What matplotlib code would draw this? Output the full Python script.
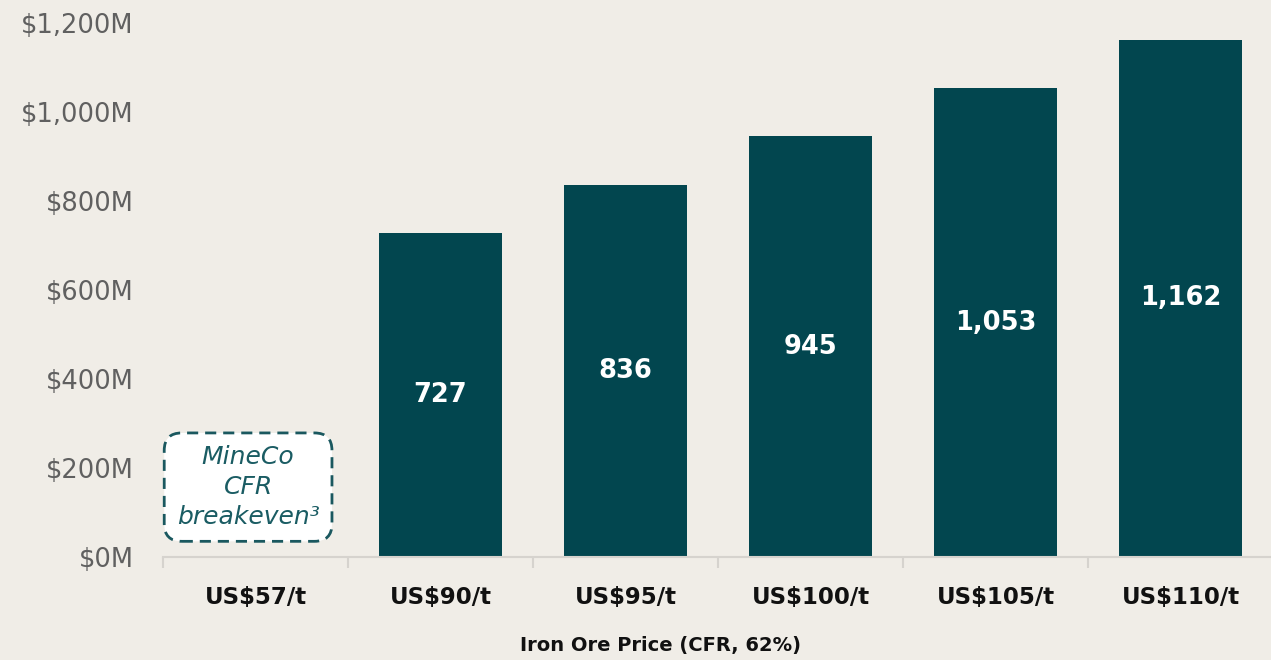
import numpy as np
import matplotlib.pyplot as plt
from matplotlib.ticker import FuncFormatter, FixedLocator

prices = ['US$57/t', 'US$90/t', 'US$95/t', 'US$100/t', 'US$105/t', 'US$110/t']
npv    = [0, 727, 836, 945, 1053, 1162]
yticks = [0, 200, 400, 600, 800, 1000, 1200]

teal = '#02464F'
bg   = '#F0EDE7'

plt.rcParams['font.family'] = ['DejaVu Sans']

fig = plt.figure(figsize=(12.71, 6.60), dpi=100, facecolor=bg)
ax  = fig.add_axes([163/1271, 103/660, 1110/1271, 534/660], facecolor=bg)

x = np.arange(len(prices))
bars = ax.bar(x, npv, width=0.665, color=teal)
ax.bar_label(bars, labels=['' if v == 0 else f'{v:,}' for v in npv],
             label_type='center', color='white', fontsize=18.5, fontweight='bold')

ax.set_xlim(-0.5, len(prices) - 0.5)
ax.set_ylim(0, 1200)
ax.set_yticks(yticks)
ax.yaxis.set_major_formatter(FuncFormatter(lambda v, p: f'${v:,.0f}M'))
ax.tick_params(axis='y', length=0, labelsize=18.5, labelcolor='#606060', pad=21)

ax.set_xticks(x)
ax.set_xticklabels(prices, fontsize=16.5, fontweight='bold', color='#111111')
ax.tick_params(axis='x', which='major', length=0, pad=21)
ax.xaxis.set_minor_locator(FixedLocator(np.arange(-0.5, len(prices), 1)))
ax.tick_params(axis='x', which='minor', length=8, color='#D6D3CE', width=1.5)

for s in ['left', 'right', 'top']:
    ax.spines[s].set_visible(False)
ax.spines['bottom'].set_color('#D6D3CE')
ax.spines['bottom'].set_linewidth(1.5)

ax.text(-0.04, 157, 'MineCo\nCFR\nbreakeven\u00b3', ha='center', va='center',
        fontsize=18, style='italic', color='#1A5C63', linespacing=1.3,
        bbox=dict(boxstyle='round,pad=0.5,rounding_size=0.7', fc='white',
                  ec='#1A585F', lw=2, ls=(0, (4, 2.5))))

fig.text(661/1271, 15/660, 'Iron Ore Price (CFR, 62%)', ha='center', va='center',
         fontsize=14, fontweight='bold', color='#111111')

plt.savefig('out.png', dpi=100, facecolor=bg)
